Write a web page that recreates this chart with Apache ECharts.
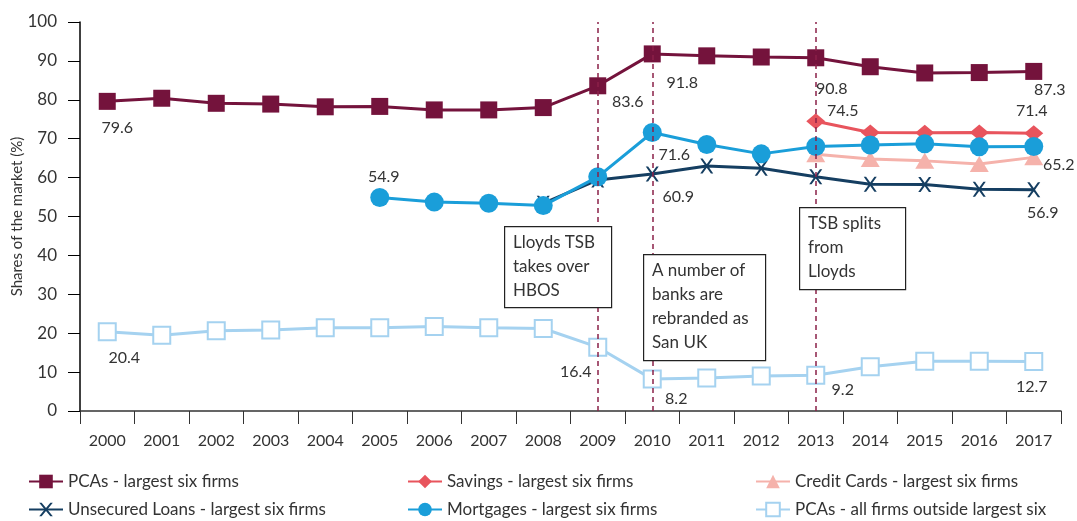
<!DOCTYPE html>
<html>
<head>
<meta charset="utf-8">
<script src="https://cdn.jsdelivr.net/npm/echarts@6/dist/echarts.min.js"></script>
<style>
html, body { margin: 0; padding: 0; background: #fff; }
#chart { width: 1077px; height: 521px; }
</style>
</head>
<body>
<div id="chart"></div>
<script>
// categories and series
var years = ['2000', '2001', '2002', '2003', '2004', '2005', '2006', '2007', '2008',
             '2009', '2010', '2011', '2012', '2013', '2014', '2015', '2016', '2017'];

var pcaLargest = [79.6, 80.4, 79.1, 78.9, 78.2, 78.3, 77.4, 77.4, 78.0,
                  83.6, 91.8, 91.3, 91.0, 90.8, 88.5, 86.9, 87.0, 87.3];
var savingsLargest = [null, null, null, null, null, null, null, null, null,
                      null, null, null, null, 74.5, 71.6, 71.5, 71.6, 71.4];
var creditLargest = [null, null, null, null, null, null, null, null, null,
                     null, null, null, null, 66.0, 64.8, 64.3, 63.5, 65.2];
var unsecuredLargest = [null, null, null, null, null, null, null, null, 53.4,
                        59.4, 60.9, 63.0, 62.4, 60.2, 58.3, 58.2, 57.0, 56.9];
var mortgagesLargest = [null, null, null, null, null, 54.9, 53.7, 53.4, 52.8,
                        60.2, 71.6, 68.5, 66.1, 68.0, 68.4, 68.7, 67.9, 68.0];
var pcaOutside = [20.4, 19.5, 20.6, 20.8, 21.4, 21.4, 21.7, 21.4, 21.2,
                  16.4, 8.2, 8.5, 9.0, 9.2, 11.4, 12.8, 12.8, 12.7];

var yTicks = { min: 0, max: 100, interval: 10 };
var eventYears = ['2009', '2010', '2013'];
var notes = ['Lloyds TSB\ntakes over\nHBOS',
             'A number of\nbanks are\nrebranded as\nSan UK',
             'TSB splits\nfrom\nLloyds'];

// where the value labels sit (pixel offset from the marker), by year index
var labelOffsets = {
    pca: { 0: [10, 26], 9: [30, 16], 10: [30, 29], 13: [16, 31], 17: [16, 18] },
    savings: { 13: [27, -10], 17: [-2, -22] },
    credit: { 17: [25, 7] },
    unsecured: { 10: [26, 23], 17: [9, 23] },
    mortgages: { 5: [4, -21], 10: [22, 22] },
    outside: { 0: [17, 26], 9: [-22, 25], 10: [24, 20], 13: [27, 15], 17: [-2, 25] }
};

var FONT = 'Lato';
var TEXT = '#333333';

function buildData(values, offsets) {
    return values.map(function (v, i) {
        if (v === null) return '-';
        if (!offsets[i]) return v;
        return { value: v, label: { show: true, position: 'inside', offset: offsets[i] } };
    });
}

var xPath = 'path://M0,0L1.8,0L5,4.6L8.2,0L10,0L6,6L10,12L8.2,12L5,7.4L1.8,12L0,12L4,6Z';

function lineSeries(name, values, offsets, color, symbol, size, empty) {
    return {
        name: name,
        type: 'line',
        data: buildData(values, offsets),
        symbol: symbol,
        symbolSize: size,
        showAllSymbol: true,
        z: 3,
        lineStyle: { color: color, width: 3 },
        itemStyle: empty ? { color: color, borderColor: color, borderWidth: 2 } : { color: color },
        label: { show: false, color: TEXT, fontFamily: FONT, fontSize: 16 },
        emphasis: { disabled: true }
    };
}

var chart = echarts.init(document.getElementById('chart'));

var legendBase = {
    orient: 'vertical',
    top: 473,
    height: 48,
    padding: 0,
    itemGap: 11,
    itemWidth: 34,
    itemHeight: 17,
    textStyle: { color: TEXT, fontFamily: FONT, fontSize: 17 }
};

var boxes = [
    { x: 504, y: 226, w: 107, h: 81 },
    { x: 643, y: 254, w: 122, h: 106 },
    { x: 799, y: 207, w: 106, h: 82 }
];

var boxElements = [];
boxes.forEach(function (b, i) {
    boxElements.push({
        type: 'rect', left: b.x, top: b.y, z: 100,
        shape: { width: b.w, height: b.h },
        style: { fill: '#ffffff', stroke: '#222', lineWidth: 1.2 }
    });
    boxElements.push({
        type: 'text', left: b.x + 9, top: b.y + 5, z: 101,
        style: { text: notes[i], fill: TEXT, font: '17px ' + FONT, lineHeight: 24 }
    });
});

var option = {
    animation: false,
    backgroundColor: '#ffffff',
    grid: { left: 80, right: 16, top: 22, bottom: 110, outerBoundsMode: 'none' },
    legend: [
        Object.assign({}, legendBase, { left: 28, data: ['PCAs - largest six firms', 'Unsecured Loans - largest six firms'] }),
        Object.assign({}, legendBase, { left: 407, data: ['Savings - largest six firms', 'Mortgages - largest six firms'] }),
        Object.assign({}, legendBase, { left: 755, data: ['Credit Cards - largest six firms', 'PCAs - all firms outside largest six'] })
    ],
    xAxis: {
        type: 'category',
        data: years,
        boundaryGap: true,
        axisLine: { lineStyle: { color: '#333', width: 1.5 } },
        axisTick: { show: true, inside: false, length: 13, lineStyle: { color: '#333' } },
        axisLabel: { color: TEXT, fontFamily: FONT, fontSize: 16, margin: 22, interval: 0 }
    },
    yAxis: {
        type: 'value',
        min: yTicks.min,
        max: yTicks.max,
        interval: yTicks.interval,
        name: 'Shares of the market (%)',
        nameLocation: 'middle',
        nameGap: 55,
        nameMoveOverlap: false,
        nameTextStyle: { color: TEXT, fontFamily: FONT, fontSize: 15 },
        axisLine: { show: true, lineStyle: { color: '#000', width: 1.5 } },
        axisTick: { show: true, length: 12, lineStyle: { color: '#000' } },
        axisLabel: { color: TEXT, fontFamily: FONT, fontSize: 17, margin: 23 },
        splitLine: { show: false }
    },
    series: [
        {
            name: 'events',
            type: 'line',
            data: [],
            z: 1,
            markLine: {
                silent: true,
                symbol: ['none', 'none'],
                label: { show: false },
                lineStyle: { color: '#8a2048', type: [5, 4], width: 1.5 },
                data: eventYears.map(function (y) { return { xAxis: y }; })
            }
        },
        lineSeries('PCAs - largest six firms', pcaLargest, labelOffsets.pca, '#74133c', 'rect', 17),
        lineSeries('Savings - largest six firms', savingsLargest, labelOffsets.savings, '#e8545d', 'diamond', [19, 16]),
        lineSeries('Credit Cards - largest six firms', creditLargest, labelOffsets.credit, '#f5b2ab', 'triangle', [19, 16]),
        lineSeries('Unsecured Loans - largest six firms', unsecuredLargest, labelOffsets.unsecured, '#153e61', xPath, [13, 15]),
        lineSeries('Mortgages - largest six firms', mortgagesLargest, labelOffsets.mortgages, '#1a9ed9', 'circle', 19),
        lineSeries('PCAs - all firms outside largest six', pcaOutside, labelOffsets.outside, '#a5d2f0', 'emptyRect', 17, true)
    ],
    graphic: boxElements
};

chart.setOption(option);
</script>
</body>
</html>
